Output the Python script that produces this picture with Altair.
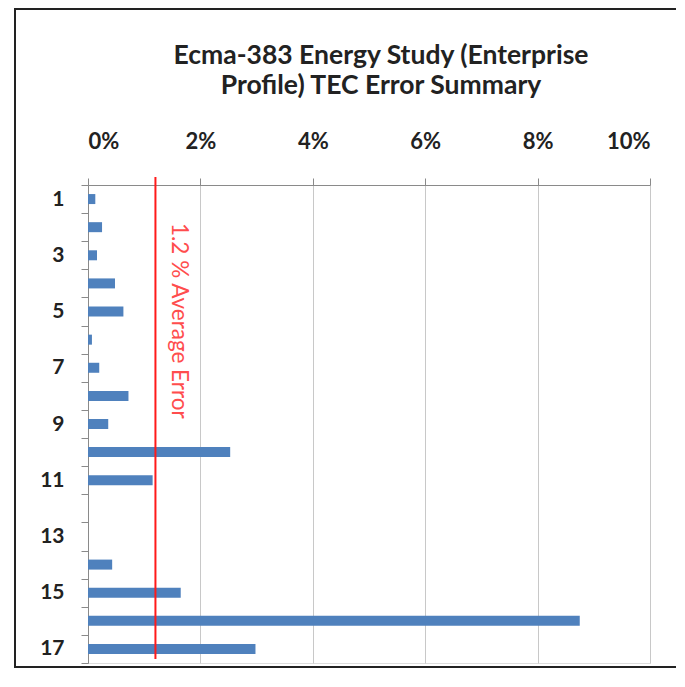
import altair as alt
import pandas as pd

categories = list(range(1, 18))
errors = [0.0013, 0.0025, 0.0016, 0.0048, 0.0063, 0.0007, 0.0020, 0.0072, 0.0036,
          0.0253, 0.0115, 0.0, 0.0, 0.0043, 0.0165, 0.0875, 0.0298]
avg_error = 0.012
avg_label = "1.2 % Average Error"
x_ticks = [0, 0.02, 0.04, 0.06, 0.08, 0.10]
title_lines = ["Ecma-383 Energy Study (Enterprise", "Profile) TEC Error Summary"]

W, H = 562, 478
FONT = "Lato"

df = pd.DataFrame({"cat": categories, "err": errors})
avg_df = pd.DataFrame({"v": [avg_error], "label": [avg_label]})
frame_df = pd.DataFrame({"k": [0]})
title_df = pd.DataFrame({"line": title_lines})

x_scale = alt.Scale(domain=[0, 0.1], nice=False)
y_scale = alt.Scale(paddingInner=0, paddingOuter=0)

x_axis = alt.Axis(orient="top", values=x_ticks, format=".0%", grid=True,
                  gridColor="#c8c8c8", domainColor="#8a8a8a", tickColor="#8a8a8a",
                  tickSize=7, labelPadding=25, labelFont=FONT, labelFontSize=22,
                  labelFontWeight="bold", labelColor="#222222", title=None)
y_axis = alt.Axis(labelExpr="datum.value % 2 == 1 ? datum.label : ''",
                  tickBand="extent", ticks=True, tickSize=7, tickColor="#8a8a8a",
                  domainColor="#8a8a8a", labelFont=FONT, labelFontSize=21,
                  labelFontWeight="bold", labelColor="#222222", labelPadding=17,
                  title=None, grid=False)

frame = alt.Chart(frame_df).mark_rect(fill="transparent", stroke="#222222", strokeWidth=2).encode(
    x=alt.value(-73), x2=alt.value(W + 80), y=alt.value(-176), y2=alt.value(H + 4)
)

title1 = alt.Chart(title_df.iloc[[0]]).mark_text(
    font=FONT, fontSize=26.5, fontWeight="bold", color="#222222",
    align="center", baseline="alphabetic").encode(
    x=alt.value(293), y=alt.value(-121), text="line:N")
title2 = alt.Chart(title_df.iloc[[1]]).mark_text(
    font=FONT, fontSize=26.5, fontWeight="bold", color="#222222",
    align="center", baseline="alphabetic").encode(
    x=alt.value(293), y=alt.value(-91), text="line:N")

bars = alt.Chart(df).mark_bar(size=10, color="#4f81bd").encode(
    x=alt.X("err:Q", scale=x_scale, axis=x_axis),
    y=alt.Y("cat:O", sort=categories, scale=y_scale, axis=y_axis),
)

rule = alt.Chart(avg_df).mark_rule(color="#ff1a1a", strokeWidth=2).encode(
    x=alt.X("v:Q", scale=x_scale), y=alt.value(-8), y2=alt.value(H - 4)
)

label = alt.Chart(avg_df).mark_text(angle=90, align="left", baseline="middle",
                                     color="#ff4d4d", fontSize=22.5, font=FONT).encode(
    x=alt.X("v:Q", scale=x_scale), xOffset=alt.value(24), y=alt.value(38), text="label:N"
)

chart = alt.layer(frame, title1, title2, bars, rule, label).properties(
    width=W, height=H,
    autosize=alt.AutoSizeParams(type="none"),
    padding={"left": 80, "top": 177, "right": 26, "bottom": 5},
).configure_view(stroke=None).configure(background="white")

chart.save("out.html", embed_options={"renderer": "svg", "actions": False})
